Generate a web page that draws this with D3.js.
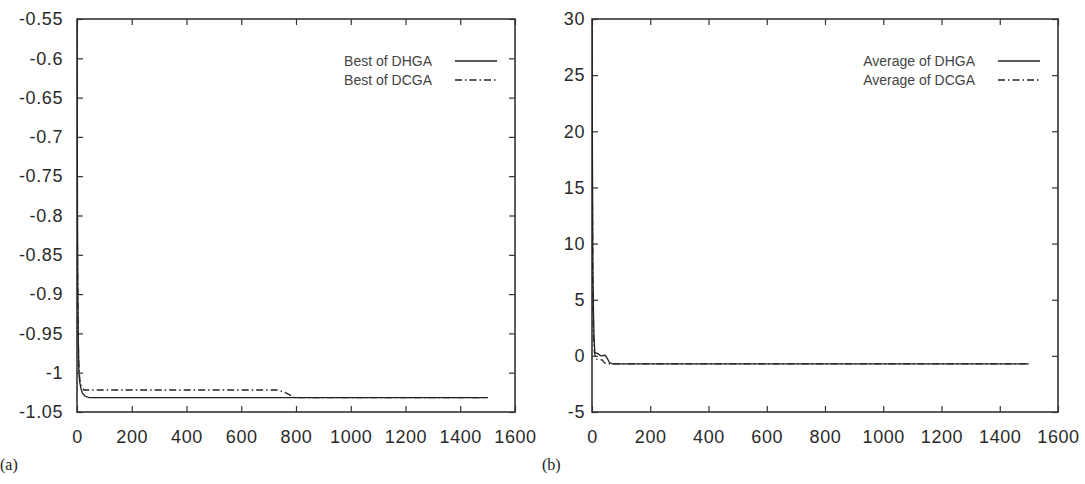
<!DOCTYPE html>
<html>
<head>
<meta charset="utf-8">
<script src="https://cdn.jsdelivr.net/npm/d3@7"></script>
<style>
  body { margin: 0; background: #fff; }
  svg { display: block; }
</style>
</head>
<body>
<svg id="chart"></svg>
<script>
// data
const xTicks = [0, 200, 400, 600, 800, 1000, 1200, 1400, 1600];
const bestTicks = [-0.55, -0.6, -0.65, -0.7, -0.75, -0.8, -0.85, -0.9, -0.95, -1, -1.05];
const avgTicks = [-5, 0, 5, 10, 15, 20, 25, 30];

// [generation, value]
const bestDHGA = [[0, -0.55], [1, -0.7], [2, -0.82], [3, -0.9], [5, -0.96], [7, -1.0], [10, -1.012],
  [15, -1.021], [20, -1.026], [30, -1.030], [45, -1.0316], [1500, -1.0316]];
const bestDCGA = [[0, -0.56], [1, -0.74], [2, -0.86], [4, -0.94], [6, -0.985], [10, -1.008],
  [15, -1.017], [25, -1.022], [730, -1.022], [760, -1.025], [795, -1.0316], [1500, -1.0316]];
const avgDHGA = [[0, 30], [1, 22], [2, 14], [3, 8], [5, 4], [7, 1.5], [10, 0.3], [20, 0.2],
  [30, 0.0], [45, 0.05], [52, -0.2], [60, -0.6], [70, -0.72], [1500, -0.72]];
const avgDCGA = [[0, 29], [1, 19], [2, 11], [3, 5], [5, 2], [8, 0.4], [12, -0.2], [20, -0.35],
  [35, -0.35], [42, -0.6], [50, -0.72], [1500, -0.72]];

const bestNames = ["Best of DHGA", "Best of DCGA"];
const avgNames = ["Average of DHGA", "Average of DCGA"];
const panelTags = ["(a)", "(b)"];

const svg = d3.select("#chart").attr("width", 1085).attr("height", 484);

const INK = "#333";
const DASHDOT = "7,3,1.5,3";

function drawPanel(cfg) {
  const x = d3.scaleLinear().domain([0, 1600]).range([cfg.left, cfg.right]);
  const y = d3.scaleLinear().domain(cfg.yDomain).range([412, 19]);
  const g = svg.append("g");

  // clip
  const clipId = "clip" + cfg.tag.replace(/\W/g, "");
  svg.append("clipPath").attr("id", clipId)
    .append("rect")
    .attr("x", cfg.left).attr("y", 19)
    .attr("width", cfg.right - cfg.left).attr("height", 393);

  // axes (inward ticks, mirrored)
  const fmt = d => String(+d.toFixed(2));
  g.append("g").attr("transform", "translate(0,412)")
    .call(d3.axisBottom(x).tickValues(xTicks).tickSizeInner(-6).tickSizeOuter(0).tickPadding(18).tickFormat(d3.format("d")));
  g.append("g").attr("transform", "translate(0,19)")
    .call(d3.axisTop(x).tickValues(xTicks).tickSizeInner(-6).tickSizeOuter(0).tickFormat(""));
  g.append("g").attr("transform", `translate(${cfg.left},0)`)
    .call(d3.axisLeft(y).tickValues(cfg.yTicks).tickSizeInner(-6).tickSizeOuter(0).tickPadding(cfg.yPad).tickFormat(fmt));
  g.append("g").attr("transform", `translate(${cfg.right},0)`)
    .call(d3.axisRight(y).tickValues(cfg.yTicks).tickSizeInner(-6).tickSizeOuter(0).tickFormat(""));

  g.selectAll(".domain").remove();
  g.selectAll(".tick line").attr("stroke", INK).attr("stroke-width", 1.2);
  g.selectAll(".tick text")
    .attr("font-family", "Liberation Sans, Arial, sans-serif")
    .attr("font-size", 18).attr("letter-spacing", 0.6).attr("fill", "#2a2a2a");

  // frame
  g.append("rect")
    .attr("x", cfg.left).attr("y", 19)
    .attr("width", cfg.right - cfg.left).attr("height", 393)
    .attr("fill", "none").attr("stroke", INK).attr("stroke-width", 1.6);

  const line = d3.line().x(d => x(d[0])).y(d => y(d[1]));

  const series = [
    { data: cfg.s1, dash: null, name: cfg.names[0] },
    { data: cfg.s2, dash: DASHDOT, name: cfg.names[1] }
  ];

  series.forEach((s, i) => {
    g.append("path")
      .attr("d", line(s.data))
      .attr("clip-path", `url(#${clipId})`)
      .attr("fill", "none")
      .attr("stroke", "#222")
      .attr("stroke-width", 1.3)
      .attr("stroke-dasharray", s.dash);

    const ly = 61 + i * 19;
    g.append("text")
      .attr("x", cfg.right - 83).attr("y", ly)
      .attr("dy", "0.35em")
      .attr("text-anchor", "end")
      .attr("font-family", "Liberation Sans, Arial, sans-serif")
      .attr("font-size", 14)
      .attr("fill", "#444")
      .text(s.name);
    g.append("line")
      .attr("x1", cfg.right - 60).attr("x2", cfg.right - 18)
      .attr("y1", ly).attr("y2", ly)
      .attr("stroke", "#222").attr("stroke-width", 1.3)
      .attr("stroke-dasharray", s.dash);
  });

  // panel tag
  g.append("text")
    .attr("x", cfg.tagX).attr("y", 470)
    .attr("font-family", "Liberation Serif, Times New Roman, serif")
    .attr("font-size", 16).attr("fill", "#222")
    .text(cfg.tag);
}

drawPanel({
  left: 77, right: 515, yDomain: [-1.05, -0.55], yTicks: bestTicks, yPad: 14,
  s1: bestDHGA, s2: bestDCGA, names: bestNames, tag: panelTags[0], tagX: 0
});
drawPanel({
  left: 592, right: 1058, yDomain: [-5, 30], yTicks: avgTicks, yPad: 7,
  s1: avgDHGA, s2: avgDCGA, names: avgNames, tag: panelTags[1], tagX: 542
});
</script>
</body>
</html>
